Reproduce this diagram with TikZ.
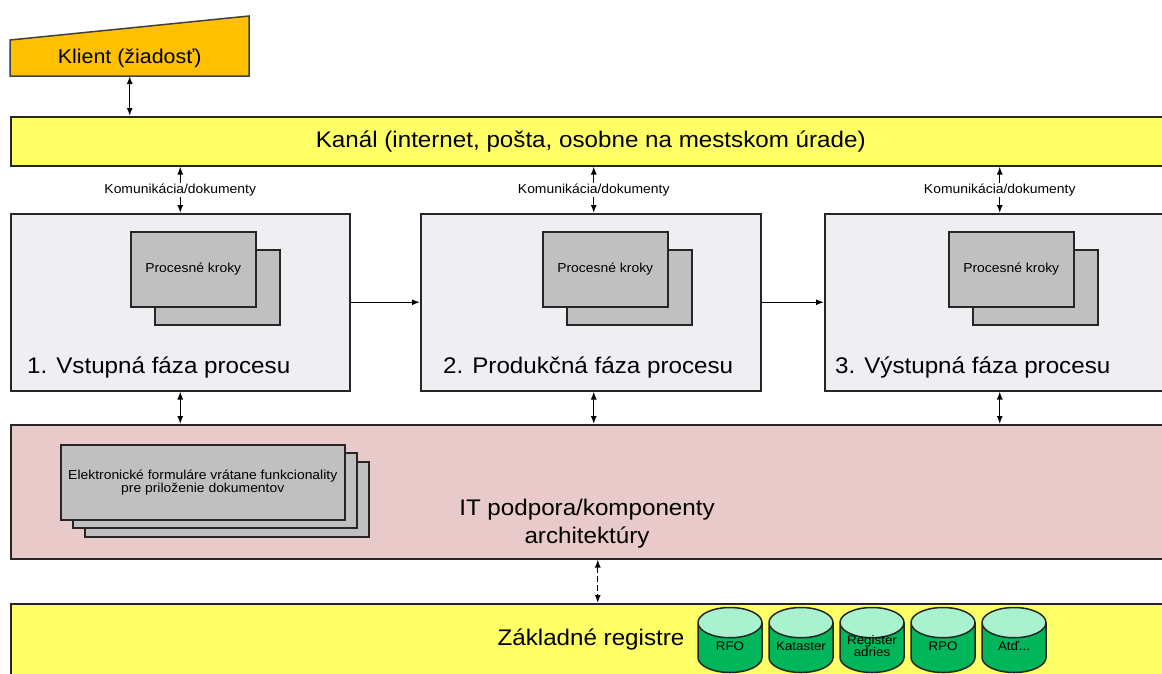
\documentclass[tikz,border=0pt]{standalone}
\usepackage{fontspec}
\setmainfont{Liberation Sans}[FakeStretch=1.07]
\usepackage{tikz,xcolor}
\usetikzlibrary{positioning,calc,shapes.geometric,arrows.meta}
\definecolor{klient area}{HTML}{FFC000}
\definecolor{kanal area}{HTML}{FFFF66}
\definecolor{faza area}{HTML}{EFEEF3}
\definecolor{krok area}{HTML}{C0C0C0}
\definecolor{it area}{HTML}{E9CACA}
\definecolor{reg body}{HTML}{00B65A}
\definecolor{reg top}{HTML}{A9F2CF}
\tikzstyle{pas} = [draw=black!85, line width=1.5pt, inner sep=0pt, anchor=north west]
\tikzset{bigtext/.style={font=\fontsize{22.6}{28}\selectfont},
    smalltext/.style={font=\fontsize{13}{13}\selectfont},
    faza/.style={pas, fill=faza area, minimum height=177pt},
    krok/.style={pas, fill=krok area, minimum width=125pt, minimum height=75pt, smalltext},
    formular/.style={pas, fill=krok area, minimum width=284pt, minimum height=75pt, align=center, smalltext},
    register/.style={cylinder, shape border rotate=90, draw=black!85, line width=1.5pt,
        cylinder uses custom fill, cylinder body fill=reg body, cylinder end fill=reg top,
        aspect=1.0, minimum width=64pt, minimum height=65pt, inner sep=1pt, anchor=shape center,
        font=\fontsize{12.5}{12}\selectfont},
    regtext/.style={align=center, inner sep=0pt, font=\fontsize{12.5}{12}\selectfont}, 
    dbl/.style={{Latex[length=8pt,width=6pt]}-{Latex[length=8pt,width=6pt]}, line width=1.4pt},
    arr/.style={-{Latex[length=8pt,width=6pt]}, line width=1.4pt}}

\begin{document}
\begin{tikzpicture}[x=1pt,y=-1pt]
    \useasboundingbox (0,0) rectangle (1162,673);
    \clip (0,0) rectangle (1162,673);
    % Klient
    \fill[klient area, draw=black!75, line width=1.5pt] (10,76) -- (249,76) -- (249,16) -- (10,40) -- cycle;
    \node[minimum width=239pt, minimum height=36pt, inner sep=0pt, anchor=south west,
          font=\fontsize{20}{24}\selectfont] (klient) at (10,76) {Klient (žiadosť)};
    %
    \node[pas, fill=kanal area, minimum width=1160pt, minimum height=49pt, bigtext] (kanal) at (10,116)
        {Kanál (internet, pošta, osobne na mestskom úrade)};
    \draw[dbl] (klient.south) -- (klient.south |- kanal.north);
    % Phases of the process
    \node[faza, minimum width=339pt] (vstup) at (10,213) {};
    \node[faza, minimum width=340pt] (produkcia) at (420,213) {};
    \node[faza, minimum width=350pt] (vystup) at (824,213) {};
    \foreach \f/\dx in {vstup/120, produkcia/122, vystup/124} {
        \node[krok] (\f-zadny) at ($(\f.north west)+(\dx+24,36)$) {};
        \node[krok] (\f-krok) at ($(\f.north west)+(\dx,18)$) {Procesné kroky};
    }
    \node[bigtext, inner sep=0pt, anchor=west] (vstup-text) at ($(vstup.south west)+(17,-24)$) {1. Vstupná fáza procesu};
    \node[bigtext, inner sep=0pt, anchor=west] (produkcia-text) at ($(produkcia.south west)+(23,-24)$) {2. Produkčná fáza procesu};
    \node[bigtext, inner sep=0pt, anchor=west] (vystup-text) at ($(vystup.south west)+(11,-24)$) {3. Výstupná fáza procesu};
    \draw[arr] (vstup.east) -- (produkcia.west);
    \draw[arr] (produkcia.east) -- (vystup.west);
    % IT support
    \node[pas, fill=it area, minimum width=1160pt, minimum height=134pt] (itbox) at (10,424) {};
    \node[formular] (form3) at ($(itbox.north west)+(74,37)$) {};
    \node[formular] (form2) at ($(itbox.north west)+(62,28)$) {};
    \node[formular] (form1) at ($(itbox.north west)+(50,20)$) {Elektronické formuláre vrátane funkcionality\\pre priloženie dokumentov};
    \node[bigtext, align=center] (it-text) at (587,524) {IT podpora/komponenty\\architektúry};
    \foreach \f/\dx in {vstup/0, produkcia/3, vystup/0} {
        \draw[dbl] ($(\f.north)+(\dx,0)$) -- ($(\f.north |- kanal.south)+(\dx,0)$)
            node[midway, fill=white, inner sep=1pt, smalltext] {Komunikácia/dokumenty};
        \draw[dbl] ($(\f.south)+(\dx,0)$) -- ($(\f.south |- itbox.north)+(\dx,0)$);
    }
    % Basic registers
    \node[pas, fill=kanal area, minimum width=1160pt, minimum height=80pt] (registre) at (10,603) {};
    \node[bigtext] (registre-text) at (591,640) {Základné registre};
    \draw[dbl, dash pattern=on 6pt off 3pt] ($(itbox.south)+(7,0)$) -- ($(registre.north)+(7,0)$);
    \foreach \r/\t [count=\i from 0] in {rfo/RFO, kataster/Kataster, adresy/{Register\\adries}, rpo/RPO, atd/{Atď...}} {
        \node[register] (\r) at (730+71*\i,640) {\phantom{RFO}};
        \node[regtext] (\r-text) at ($(\r.shape center)+(0,6)$) {\t};
    }
\end{tikzpicture}
\end{document}
